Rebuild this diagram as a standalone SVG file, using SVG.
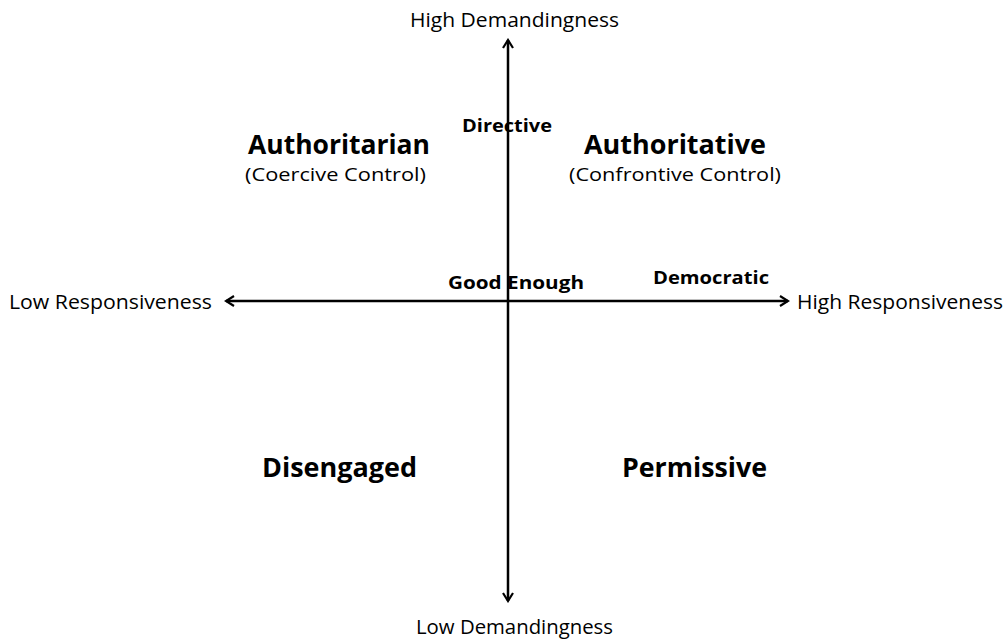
<svg xmlns="http://www.w3.org/2000/svg" width="1008" height="640" viewBox="0 0 1008 640">
<style>
.t{font-family:"Open Sans","Liberation Sans",sans-serif;fill:#000;text-anchor:middle}
.ax{font-size:19.5px}
.big{font-size:26.5px;font-weight:bold}
.sub{font-size:18.5px}
.sm{font-size:18px;font-weight:bold}
.ln{stroke:#000;stroke-width:2.5;fill:none}
</style>
<defs>
<marker id="ah" viewBox="0 0 12 12" refX="10" refY="6" markerWidth="12" markerHeight="12" markerUnits="userSpaceOnUse" orient="auto-start-reverse">
<polyline points="2,1 10,6 2,11" fill="none" stroke="#000" stroke-width="2.2"/>
</marker>
</defs>
<rect width="1008" height="640" fill="#fff"/>
<g id="connectors">
<line class="ln" x1="508" y1="40" x2="508" y2="601" marker-start="url(#ah)" marker-end="url(#ah)"/>
<line class="ln" x1="226" y1="301" x2="788" y2="301" marker-start="url(#ah)" marker-end="url(#ah)"/>
</g>
<g id="axis-labels">
<text class="t ax" x="514.5" y="27" textLength="209" lengthAdjust="spacingAndGlyphs">High Demandingness</text>
<text class="t ax" x="514.5" y="634" textLength="197" lengthAdjust="spacingAndGlyphs">Low Demandingness</text>
<text class="t ax" x="110.5" y="309" textLength="203" lengthAdjust="spacingAndGlyphs">Low Responsiveness</text>
<text class="t ax" x="900" y="309" textLength="206" lengthAdjust="spacingAndGlyphs">High Responsiveness</text>
</g>
<g id="authoritarian">
<text class="t big" x="339" y="154" textLength="182" lengthAdjust="spacingAndGlyphs">Authoritarian</text>
<text class="t sub" x="335.5" y="181" textLength="181" lengthAdjust="spacingAndGlyphs">(Coercive Control)</text>
</g>
<g id="directive">
<text class="t sm" x="507" y="132" textLength="90" lengthAdjust="spacingAndGlyphs">Directive</text>
</g>
<g id="authoritative">
<text class="t big" x="675" y="154" textLength="182" lengthAdjust="spacingAndGlyphs">Authoritative</text>
<text class="t sub" x="675" y="181" textLength="212" lengthAdjust="spacingAndGlyphs">(Confrontive Control)</text>
</g>
<g id="good-enough">
<text class="t sm" x="516" y="289" textLength="136" lengthAdjust="spacingAndGlyphs">Good Enough</text>
</g>
<g id="democratic">
<text class="t sm" x="711" y="284" textLength="116" lengthAdjust="spacingAndGlyphs">Democratic</text>
</g>
<g id="disengaged">
<text class="t big" x="339.5" y="477" textLength="155" lengthAdjust="spacingAndGlyphs">Disengaged</text>
</g>
<g id="permissive">
<text class="t big" x="694.5" y="477" textLength="145" lengthAdjust="spacingAndGlyphs">Permissive</text>
</g>
</svg>
